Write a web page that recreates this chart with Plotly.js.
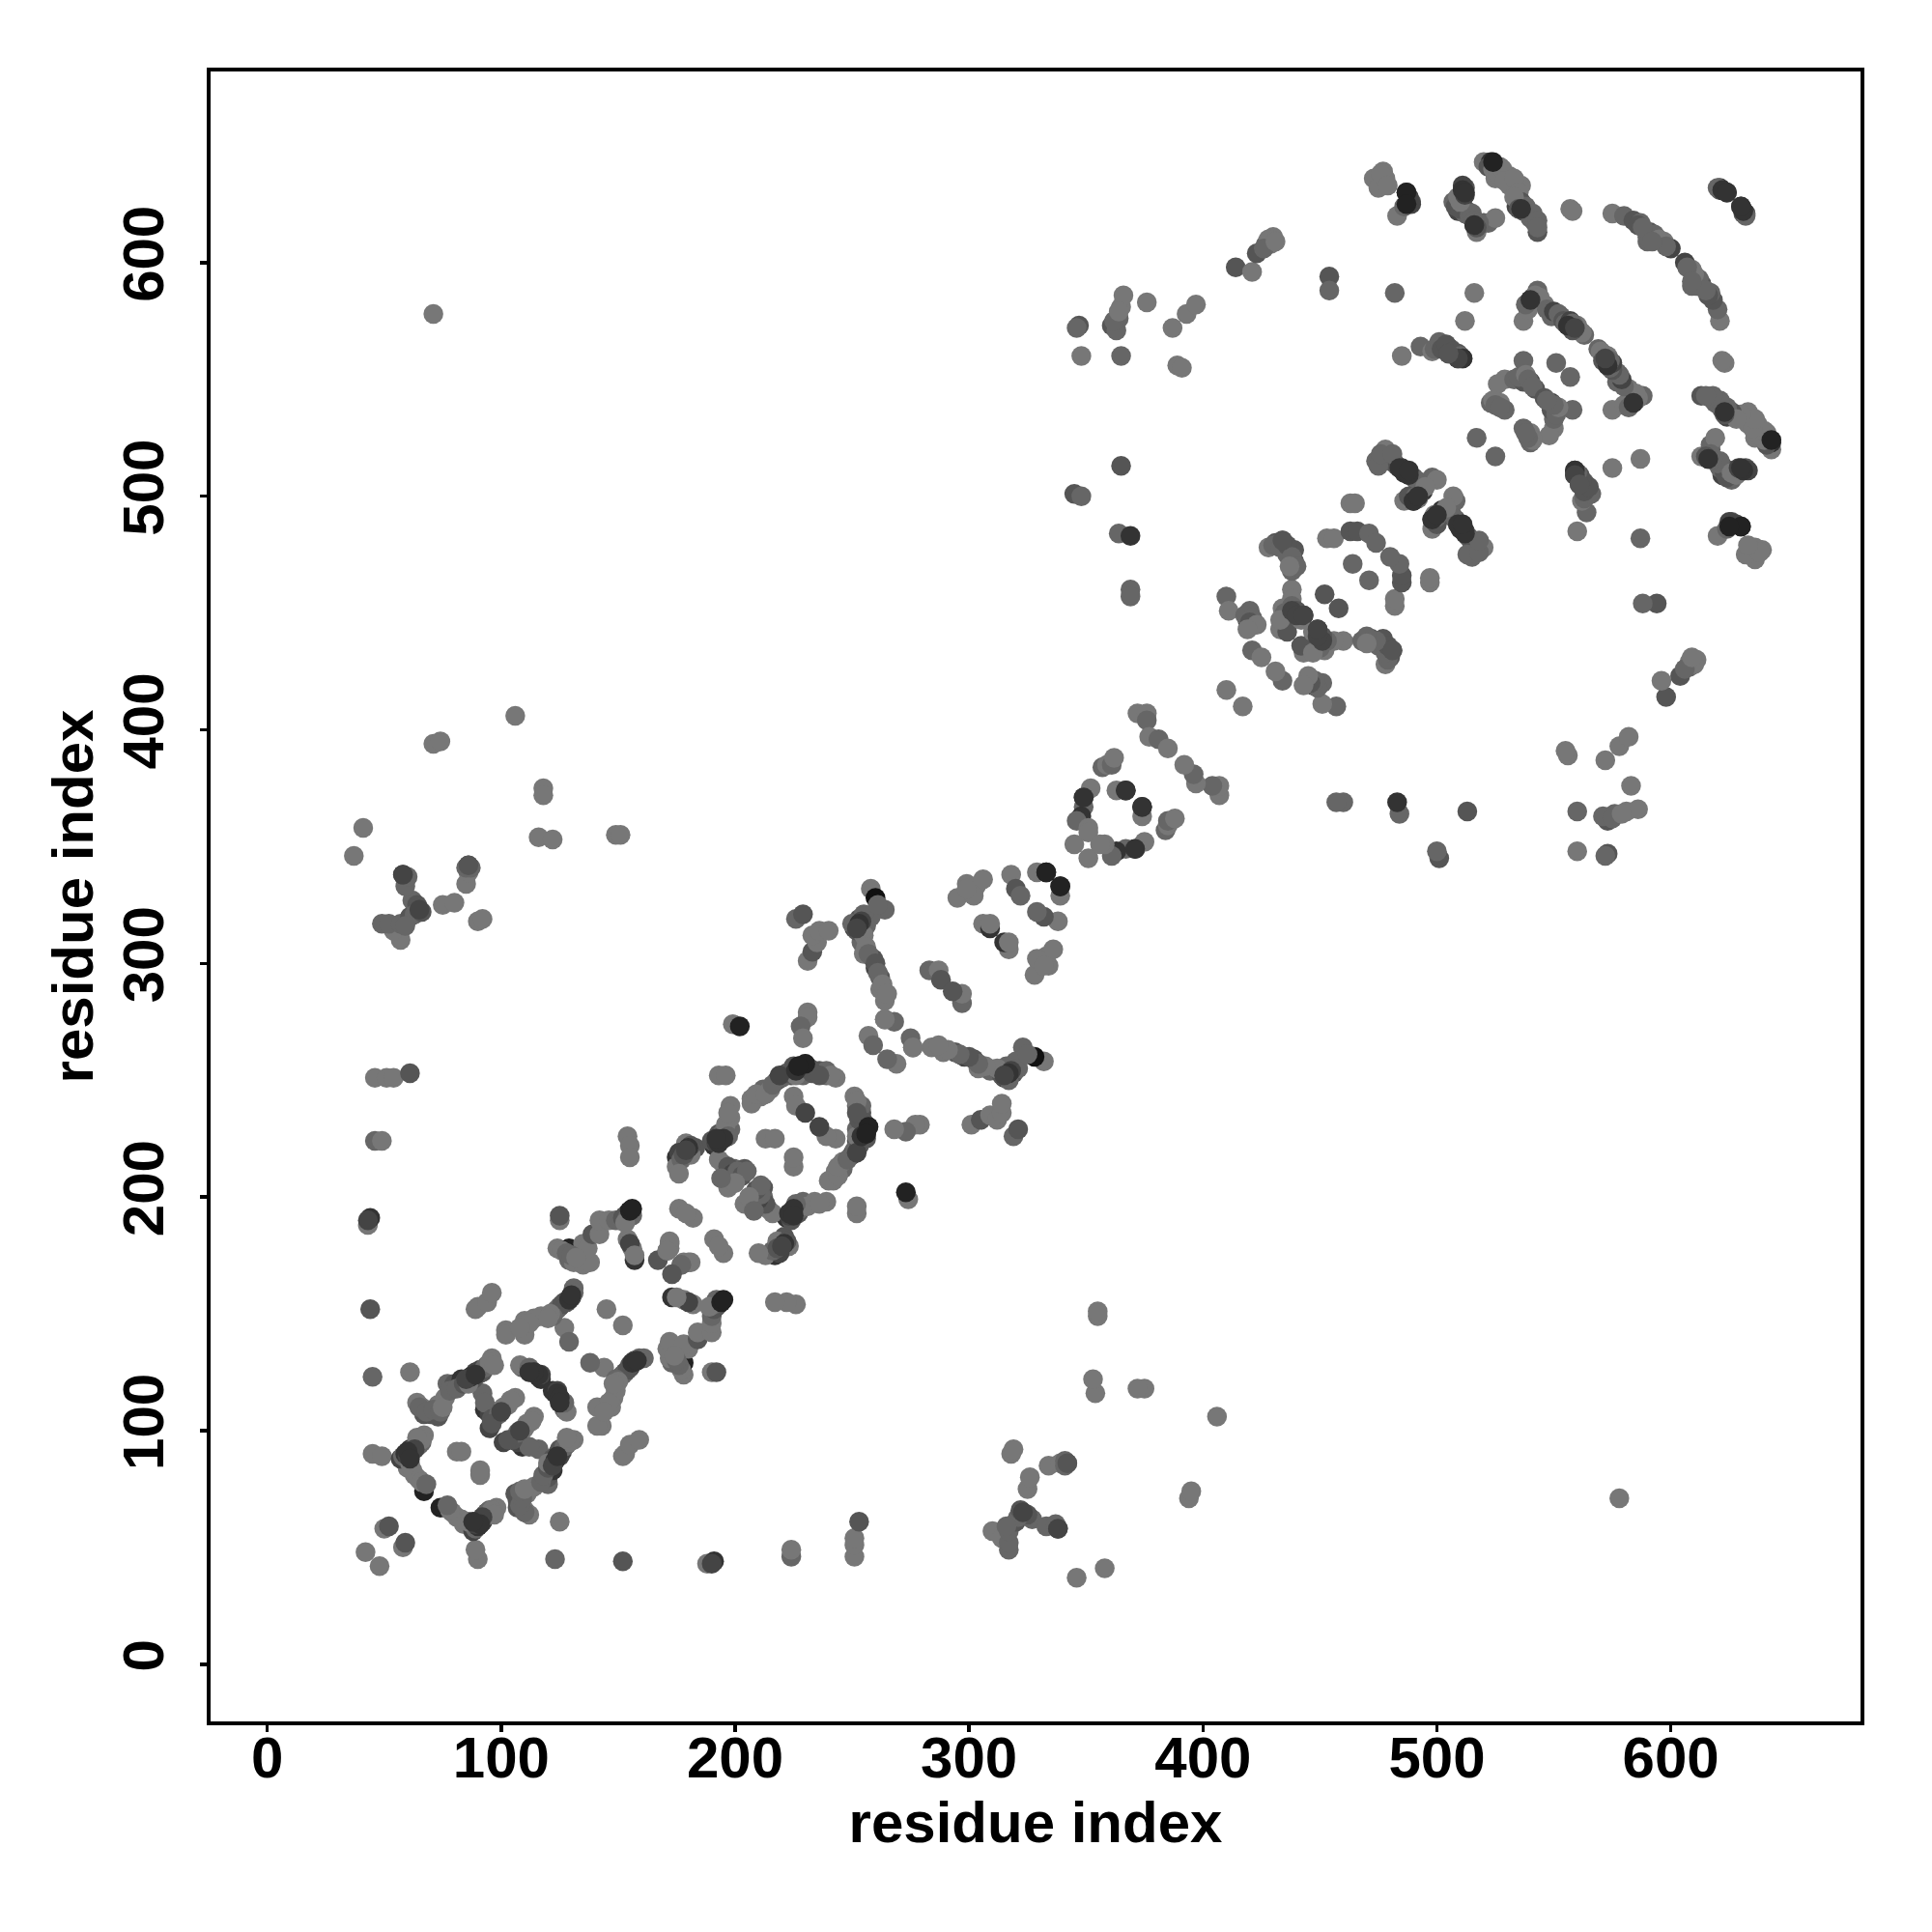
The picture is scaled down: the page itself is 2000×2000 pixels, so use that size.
<!DOCTYPE html>
<html><head><meta charset="utf-8">
<script src="https://cdn.plot.ly/plotly-3.0.1.min.js"></script>
<style>html,body{margin:0;padding:0;background:#fff}</style></head>
<body><div id="chart" style="width:2000px;height:2000px"></div>
<script>
const residueI = [
71,37,41,71,74,106,118,118,116,122,149,151,
57,54,49,52,57,61,65,62,59,58,75,80,85,86,86,90,92,
46,51,54,61,46,49,43,44,44,45,61,45,49,42,50,52,
60,63,57,59,61,63,65,67,67,67,
64,66,67,70,73,73,76,77,80,83,87,89,91,94,96,
92,93,95,98,100,103,106,95,109,113,116,117,81,83,
89,90,94,96,102,102,110,110,114,117,123,125,127,129,130,131,127,129,
125,125,124,129,129,131,135,138,135,137,139,142,142,146,151,153,154,155,
154,156,157,155,157,172,171,167,178,181,177,145,182,176,179,
199,202,231,231,228,229,193,196,
191,193,195,198,198,198,183,178,179,175,175,154,155,155,
207,211,212,215,218,224,226,227,230,236,239,243,225,226,230,213,217,
196,197,202,195,200,204,257,259,264,268,
226,229,231,233,235,233,236,240,
258,260,264,258,254,253,251,254,255,259,260,262,262,264,264,
283,287,288,295,299,303,306,302,299,318,320,322,329,333,306,309,309,345,
357,359,361,362,349,349,348,346,351,351,352,363,367,
372,376,376,377,381,385,410,
410,411,420,419,420,422,421,425,
438,438,434,438,441,443,433,436,452,
428,431,434,436,439,439,438,463,465,453,456,463,466,471,474,464,
474,478,479,482,485,487,490,493,486,490,494,498,500,517,
473,475,477,478,483,486,487,489,
511,512,507,509,512,515,516,517,520,522,525,
520,523,527,525,531,531,536,534,537,540,542,543,557,558,
575,580,584,587,591,590,597,600,621,622,624,
482,516,512,485,493,498,500,503,506,509,511,
537,539,540,543,546,549,553,556,560,563,
537,529,526,533,537,540,542,551,523,527,529,
347,348,361,364,365,366,376,365,387,393,397,389,391,
365,364,369,369,369,345,348,414,421,423,427,430,429,454,454
];
const residueJ = [
578,346,358,394,395,406,375,372,354,353,355,355,
310,314,317,317,317,320,323,327,333,338,325,326,334,342,339,318,319,
251,251,251,253,224,224,188,191,152,123,125,90,89,48,58,59,
84,81,88,90,92,93,94,98,76,74,
112,110,107,107,106,111,114,120,120,122,123,125,126,128,131,
116,109,107,108,109,111,114,101,127,125,123,122,91,91,
152,153,155,159,143,141,141,147,148,149,151,153,155,156,158,161,144,138,
190,192,178,178,173,172,171,172,180,178,184,184,190,190,190,192,193,194,
182,178,173,180,175,180,177,173,172,172,171,152,191,195,193,
274,273,279,277,273,268,252,252,
222,225,226,229,234,239,221,220,223,217,213,226,222,217,
242,243,246,246,250,252,254,256,257,254,252,251,243,239,236,225,225,
211,204,209,214,212,212,269,265,276,275,
319,321,301,305,309,312,314,314,
332,328,323,320,319,317,315,309,304,302,298,294,289,284,276,
297,297,293,328,334,333,336,329,332,338,332,329,339,339,317,315,317,351,
384,385,385,388,371,367,363,361,358,356,375,374,374,
407,407,404,397,396,392,417,
457,451,451,447,444,446,434,431,
460,456,452,451,449,449,443,442,458,
478,480,481,475,477,472,468,497,497,482,482,485,485,484,480,471,
515,520,516,514,512,510,508,506,498,498,502,508,507,525,
636,632,639,636,620,624,630,626,
631,632,626,622,621,619,616,613,617,617,619,
643,643,641,636,637,633,633,624,622,619,617,613,623,622,
621,620,618,617,613,609,609,606,632,631,630,
587,587,575,560,564,562,564,564,563,561,559,
575,580,584,588,582,577,577,573,573,569,
558,550,548,550,551,549,546,557,540,540,537,
573,560,573,576,581,586,583,560,572,578,582,556,555,
513,484,483,460,457,501,500,598,596,604,608,611,608,594,588
];
const greyStep = [
7,7,7,7,7,7,7,7,7,7,7,7,
7,7,6,6,6,5,4,6,6,4,7,7,7,5,7,7,7,
7,7,7,5,6,7,7,3,5,6,7,7,7,7,7,5,
7,7,4,3,3,4,4,7,3,2,
7,7,5,5,5,7,7,6,5,3,5,4,4,6,7,
6,3,4,5,6,7,7,4,6,3,3,3,7,7,
7,7,7,7,7,7,7,7,7,7,5,4,4,3,3,6,7,6,
7,5,7,2,6,7,7,7,7,7,5,7,7,7,4,4,6,2,
7,7,3,4,7,7,6,5,7,7,7,7,7,7,7,
7,2,7,7,6,7,7,7,
3,3,4,6,7,7,5,7,7,3,7,7,7,7,
7,7,6,7,3,5,4,2,7,5,6,7,7,7,4,7,7,
5,7,3,7,6,5,7,6,6,6,
6,5,7,5,7,7,7,7,
7,1,6,6,4,3,4,6,7,5,4,5,7,7,7,
6,7,5,7,7,7,7,7,7,7,5,6,7,2,7,3,7,7,
6,7,6,7,3,6,3,6,7,7,7,7,3,
7,7,6,7,6,7,7,
6,7,6,4,7,7,6,7,
7,7,7,5,6,4,7,5,5,
7,5,6,6,5,5,6,7,7,7,7,5,5,6,6,6,
6,7,5,5,3,3,5,7,7,3,3,6,7,6,
7,7,7,7,7,6,2,5,
3,5,6,4,6,5,3,7,5,6,7,
7,3,7,7,7,7,7,4,5,6,6,5,7,7,
7,6,5,6,5,6,7,4,4,3,4,
6,7,7,7,6,7,7,4,6,5,4,
7,7,3,6,7,6,6,3,7,6,
6,7,7,6,6,4,5,6,6,7,6,
5,7,5,6,7,7,7,6,7,7,7,7,7,
5,6,3,6,6,5,6,5,7,5,6,7,7,5,6
];
const denseI = [
58,60,62,64,66,66,64,61,62,65,66,68,
65,68,71,74,75,78,81,84,88,90,92,93,95,97,86,
93,96,99,101,104,96,108,112,114,117,
124,126,128,130,131,122,121,120,112,108,
149,152,154,156,153,
190,192,193,195,196,197,197,220,222,224,225,228,229,226,
176,177,180,181,193,197,199,201,203,205,200,194,
207,209,213,216,239,241,
253,255,252,250,256,255,256,257,260,261,263,265,261,
478,480,483,486,488,491,492,495,475,476,481,488,491,492,
418,421,420,423,419,438,440,442,435,433,430,433,436,438,440,437,
476,479,488,489,
508,510,511,513,514,515,516,518,517,509,510,512,511,
522,524,526,528,529,533,535,536,538,541,543,543,533,535,
541,542,538,544,547,550,552,554,555,557,558,561,562,558,
499,501,502,504,505,507,509,510,
537,535,538,539,541,524,525,527,
590,593,595,598,586,588,592,346,363,362,364,621,620,
428,426,431,60,64,63,66,59,85,87,43,
178,181,176,232,233,236,126,128,130,132
];
const denseJ = [
89,91,92,93,95,96,97,86,83,79,78,77,
110,108,109,108,110,117,118,120,122,124,125,127,129,128,120,
112,105,107,110,113,103,128,127,125,124,
152,154,155,157,159,149,150,148,146,144,
190,191,191,192,189,
224,223,227,228,231,226,236,251,253,254,256,254,252,252,
219,216,221,218,216,213,210,211,209,211,206,208,
240,244,244,248,254,252,
319,321,314,317,316,312,307,304,300,296,291,287,325,
517,515,513,511,509,507,503,504,513,518,518,500,500,499,
449,448,446,445,443,453,451,447,450,447,479,478,479,474,470,470,
638,633,628,625,
624,623,625,622,620,621,618,617,615,628,626,629,633,
641,640,638,640,635,636,630,626,624,621,618,615,628,623,
585,586,582,585,580,579,578,575,574,575,574,571,570,571,
563,566,563,565,561,562,559,560,
549,551,552,550,547,541,539,538,
611,612,610,607,616,615,609,572,571,575,579,631,632,
610,606,609,337,325,321,322,316,341,341,190,
218,222,210,255,253,252,177,176,175,174
];
const denseGrey = [
6,5,6,6,6,7,7,7,7,7,7,6,
6,6,6,6,7,6,6,5,5,5,5,6,7,7,7,
6,5,6,7,7,5,7,6,4,4,
6,5,5,4,6,6,7,7,7,7,
6,5,6,6,7,
5,4,5,6,7,6,7,6,5,6,5,6,6,7,
4,6,5,7,7,5,4,6,5,6,7,6,
7,7,7,6,6,7,
5,6,5,6,6,7,7,6,5,6,7,7,6,
6,6,5,6,5,6,6,7,6,6,6,5,6,7,
6,6,5,7,7,6,5,7,6,7,6,6,5,6,6,7,
7,7,4,4,
5,5,6,5,6,6,6,6,5,7,7,4,4,
5,7,7,7,7,7,7,5,6,6,6,6,7,5,
5,7,6,7,6,4,6,5,6,4,6,7,7,5,
6,6,5,5,5,5,4,6,
5,6,7,6,6,7,6,6,
6,6,7,6,5,6,6,6,6,6,7,5,6,
7,6,7,6,5,6,5,6,6,6,4,
5,5,7,5,5,5,7,6,6,7
];
const accentI = [
59,61,63,60,60,61,116,114,112,87,85,89,100,129,130,155,156,
180,179,193,195,192,219,230,226,227,254,253,252,
486,484,488,490,492,488,434,438,440,443,
511,487,516,622,624,540,556,559,511,509,505,524,487,512,536,
333,367,349,58,65,86
];
const accentJ = [
90,91,92,89,91,88,124,125,125,123,122,124,108,156,158,194,195,
221,220,223,225,225,252,257,254,256,318,317,315,
510,512,509,498,500,511,481,451,449,449,
631,630,616,631,630,584,573,572,559,559,561,643,625,630,623,
339,374,371,338,323,342
];
const accentGrey = [
3,3,4,4,3,3,3,3,3,3,4,3,4,3,3,2,2,
3,4,3,3,3,4,2,3,2,4,3,4,
3,3,3,3,3,3,5,4,4,4,
3,2,3,3,3,3,3,4,3,4,5,2,2,3,3,
2,3,3,4,4,5
];
const tickValues = [0,100,200,300,400,500,600];
const titleText = "residue index";

const allI = residueI.concat(denseI, accentI), allJ = residueJ.concat(denseJ, accentJ), allGrey = greyStep.concat(denseGrey, accentGrey);
const pointColours = allGrey.map(s => { const h = (s * 17).toString(16).padStart(2,"0"); return "#" + h + h + h; });
const font = {family:"Liberation Sans, Arial, sans-serif", size:60, color:"#000", weight:700};
const axisBase = {
  autorange:false, showgrid:false, zeroline:false, showline:true, mirror:true,
  linecolor:"#000", linewidth:4, ticks:"outside", ticklen:7, tickwidth:3.5, tickcolor:"#000",
  tickmode:"array", tickvals:tickValues, ticktext:tickValues.map(String), tickfont:font
};
Plotly.newPlot("chart",[{
  type:"scatter", mode:"markers",
  x:allI.concat(allJ), y:allJ.concat(allI),
  marker:{size:20.5, color:pointColours.concat(pointColours), line:{width:0}},
  hoverinfo:"skip", cliponaxis:false
}],{
  width:2000, height:2000, showlegend:false, paper_bgcolor:"#fff", plot_bgcolor:"#fff",
  margin:{l:218,r:74,t:74,b:218,pad:0},
  xaxis:Object.assign({},axisBase,{range:[-24.24,681.1],ticklabelstandoff:-25,title:{text:titleText,font:font,standoff:4}}),
  yaxis:Object.assign({},axisBase,{range:[-24.5,681.8],tickangle:-90,ticklabelstandoff:14,title:{text:titleText,font:font,standoff:0}})
},{staticPlot:true,displayModeBar:false});
</script></body></html>
